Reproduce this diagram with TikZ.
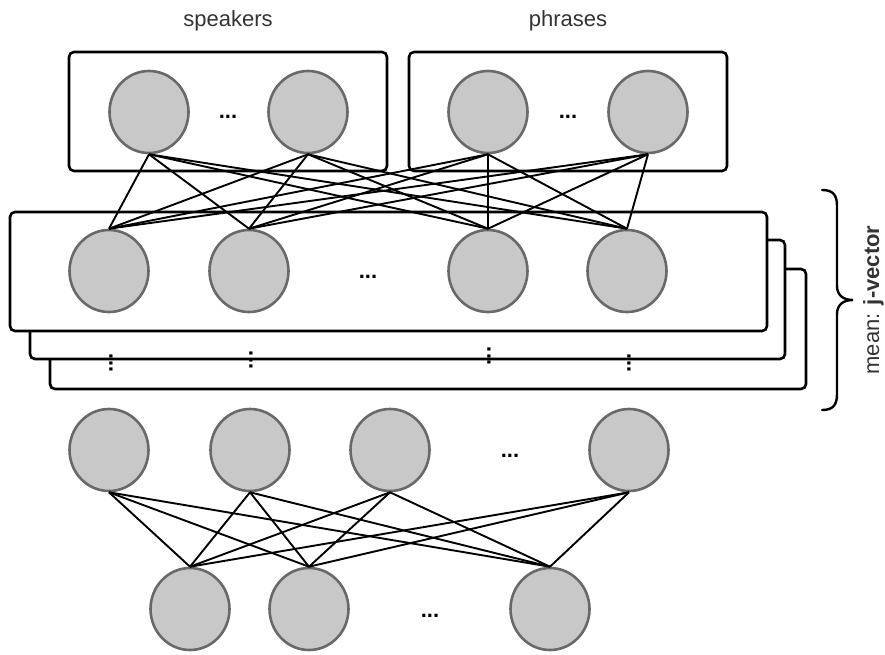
\documentclass[tikz,border=0pt]{standalone}
\usepackage{fontspec}
\setmainfont{Liberation Sans}
\usetikzlibrary{shapes.geometric}
\definecolor{nodefill}{RGB}{200,200,200}
\definecolor{nodeline}{RGB}{105,105,105}
\definecolor{labelc}{RGB}{51,51,51}
\begin{document}
\begin{tikzpicture}[x=1pt,y=-1pt,
  neuron/.style={ellipse, minimum width=79pt, minimum height=82pt, inner sep=0pt, fill=nodefill, draw=nodeline, line width=2.6pt},
  layerbox/.style={draw=black, fill=white, line width=2.6pt, rounded corners=5pt},
  conn/.style={line width=1.9pt, black},
  hdots/.style={font=\fontsize{22}{26}\selectfont\bfseries, inner sep=0pt, anchor=base},
  vdotsn/.style={font=\fontsize{22}{26}\selectfont\bfseries, inner sep=0pt, rotate=90},
  lab/.style={font=\fontsize{22}{26}\selectfont, text=labelc, inner sep=0pt, anchor=base}]
\useasboundingbox (0,0) rectangle (885,655);

% labels
\node[lab] (lspk) at (228,27) {speakers};
\node[lab] (lphr) at (568,27) {phrases};

% top boxes
\draw[layerbox] (69,52) rectangle (387,171);
\draw[layerbox] (409,52) rectangle (727,171);

% stacked middle boxes
\draw[layerbox] (50,269) rectangle (806,389);
\draw[layerbox] (30,240) rectangle (785,359);
\draw[layerbox] (10,212) rectangle (767,331);

% top neurons
\node[neuron] (t1) at (149,112) {};
\node[neuron] (t2) at (308,112) {};
\node[neuron] (t3) at (488,112) {};
\node[neuron] (t4) at (648,112) {};
\node[hdots] (td1) at (228,119) {...};
\node[hdots] (td2) at (568,119) {...};

% middle neurons
\node[neuron] (m1) at (109,271) {};
\node[neuron] (m2) at (249,271) {};
\node[neuron] (m3) at (488,271) {};
\node[neuron] (m4) at (627,271) {};
\node[hdots] (md) at (368,278) {...};

% vertical dots
\node[vdotsn] (v1) at (111,363) {...};
\node[vdotsn] (v2) at (251,360) {...};
\node[vdotsn] (v3) at (489,356) {...};
\node[vdotsn] (v4) at (629,363) {...};

% lower hidden layer
\node[neuron] (h1) at (109,450) {};
\node[neuron] (h2) at (250,450) {};
\node[neuron] (h3) at (390,450) {};
\node[neuron] (h4) at (629,450) {};
\node[hdots] (hd) at (510,457) {...};

% input layer
\node[neuron] (i1) at (190,609) {};
\node[neuron] (i2) at (309,609) {};
\node[neuron] (i3) at (550,609) {};
\node[hdots] (id) at (430,617) {...};

% connections
\foreach \a in {m1,m2,m3,m4}{
  \foreach \b in {t1,t2,t3,t4}{
    \draw[conn] (\a.north) -- (\b.south);
  }
}
\foreach \a in {i1,i2,i3}{
  \foreach \b in {h1,h2,h3,h4}{
    \draw[conn] (\a.north) -- (\b.south);
  }
}

% brace
\draw[line width=2.4pt, line cap=round] (822,190) .. controls (833,190) and (837,195) .. (837,206) -- (837,286) .. controls (837,295) and (843,300) .. (853,300) .. controls (843,300) and (837,305) .. (837,314) -- (837,394) .. controls (837,405) and (833,410) .. (822,410);
\node[lab, rotate=90] (mean) at (879,300) {mean: \textbf{j-vector}};
\end{tikzpicture}
\end{document}
